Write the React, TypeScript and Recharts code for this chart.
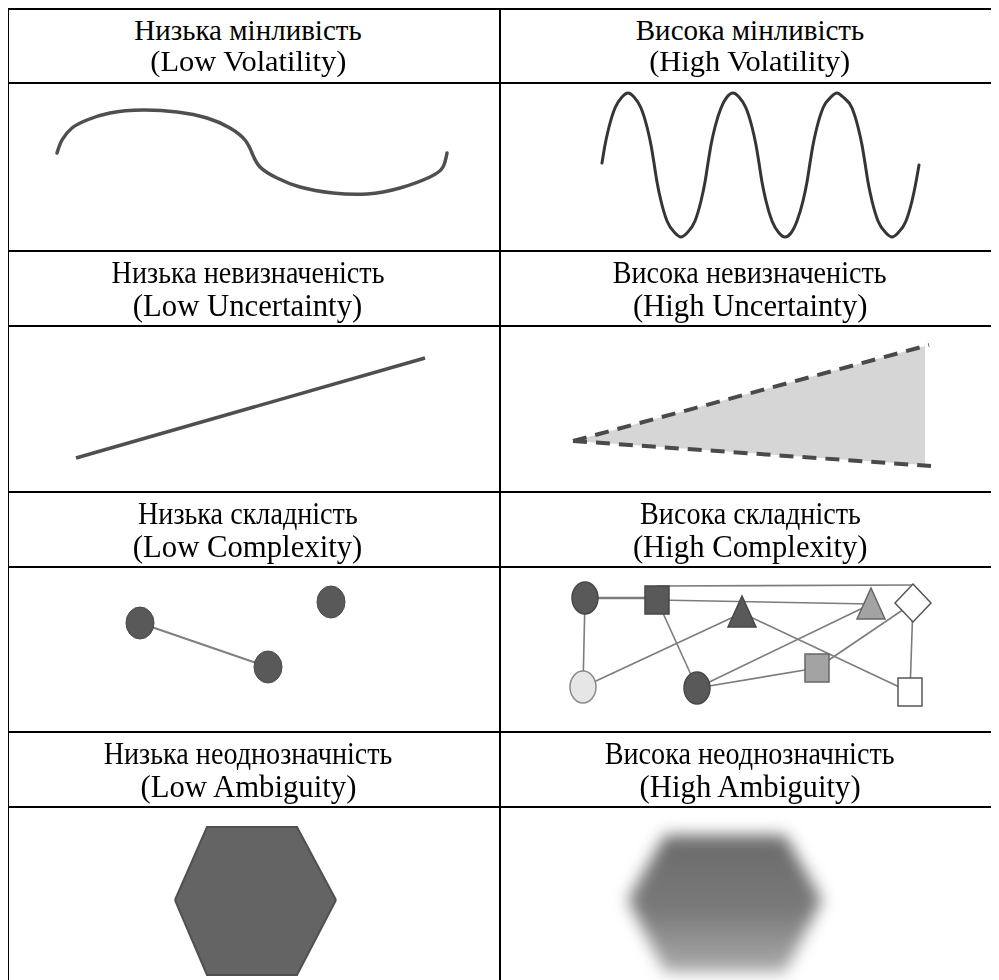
import React from "react";
import { ComposedChart, Line, Area, Scatter, XAxis, YAxis } from "recharts";

// header captions, left column = low, right column = high
const lowTitles = ["Низька мінливість", "Низька невизначеність", "Низька складність", "Низька неоднозначність"];
const lowSubtitles = ["(Low Volatility)", "(Low Uncertainty)", "(Low Complexity)", "(Low Ambiguity)"];
const highTitles = ["Висока мінливість", "Висока невизначеність", "Висока складність", "Висока неоднозначність"];
const highSubtitles = ["(High Volatility)", "(High Uncertainty)", "(High Complexity)", "(High Ambiguity)"];

// volatility (x = time, y = level)
const lowVolatility = [
  { x: 48, y: 97 }, { x: 53, y: 110 }, { x: 63, y: 122 }, { x: 78, y: 130 },
  { x: 101, y: 137 }, { x: 134, y: 140 }, { x: 168, y: 138 }, { x: 198, y: 132 },
  { x: 221, y: 122 }, { x: 236, y: 110 }, { x: 243, y: 97 }, { x: 251, y: 83 },
  { x: 268, y: 72 }, { x: 291, y: 63 }, { x: 324, y: 57 }, { x: 358, y: 56 },
  { x: 391, y: 62 }, { x: 421, y: 73 }, { x: 434, y: 83 }, { x: 438, y: 97 },
];
const highVolatility = [
  { x: 101, y: 87 }, { x: 104, y: 105 }, { x: 108, y: 123 }, { x: 114, y: 142 }, { x: 121, y: 153 },
  { x: 127, y: 157 }, { x: 133, y: 153 }, { x: 140, y: 142 }, { x: 146, y: 123 }, { x: 150, y: 105 },
  { x: 153, y: 87 }, { x: 156, y: 68 }, { x: 160, y: 49 }, { x: 166, y: 29 }, { x: 174, y: 17 },
  { x: 180, y: 13 }, { x: 186, y: 17 }, { x: 194, y: 29 }, { x: 200, y: 49 }, { x: 204, y: 68 },
  { x: 207, y: 87 }, { x: 210, y: 105 }, { x: 214, y: 123 }, { x: 220, y: 142 }, { x: 226, y: 153 },
  { x: 232, y: 157 }, { x: 238, y: 153 }, { x: 245, y: 142 }, { x: 251, y: 123 }, { x: 255, y: 105 },
  { x: 258, y: 87 }, { x: 261, y: 68 }, { x: 265, y: 49 }, { x: 271, y: 29 }, { x: 278, y: 17 },
  { x: 284, y: 13 }, { x: 290, y: 17 }, { x: 296, y: 29 }, { x: 302, y: 49 }, { x: 306, y: 68 },
  { x: 309, y: 87 }, { x: 312, y: 105 }, { x: 316, y: 123 }, { x: 322, y: 142 }, { x: 330, y: 153 },
  { x: 336, y: 157 }, { x: 342, y: 153 }, { x: 351, y: 142 }, { x: 357, y: 123 }, { x: 361, y: 105 },
  { x: 364, y: 87 }, { x: 367, y: 68 }, { x: 371, y: 49 }, { x: 377, y: 29 }, { x: 385, y: 17 },
  { x: 391, y: 13 }, { x: 397, y: 17 }, { x: 405, y: 29 }, { x: 411, y: 49 }, { x: 415, y: 68 },
  { x: 418, y: 85 },
];

// uncertainty
const lowUncertainty = [{ x: 67, y: 33 }, { x: 416, y: 133 }];
const uncertaintyUpper = [{ x: 72, y: 50 }, { x: 428, y: 146 }];
const uncertaintyLower = [{ x: 72, y: 50 }, { x: 430, y: 25 }];
const uncertaintyBand = [{ x: 72, band: [50, 50] }, { x: 424, band: [26, 145] }];

// complexity
const lowComplexityNodes = [{ x: 131, y: 108 }, { x: 259, y: 64 }, { x: 322, y: 129 }];
const lowComplexityLink = [{ x: 131, y: 108 }, { x: 259, y: 64 }];

const complexityNodes = [
  { x: 84, y: 133, shape: "circle", tone: "dark" },
  { x: 156, y: 131, shape: "square", tone: "dark" },
  { x: 241, y: 119, shape: "triangle", tone: "dark" },
  { x: 370, y: 127, shape: "triangle", tone: "mid" },
  { x: 412, y: 128, shape: "diamond", tone: "white" },
  { x: 82, y: 44, shape: "circle", tone: "light" },
  { x: 196, y: 43, shape: "circle", tone: "dark" },
  { x: 316, y: 63, shape: "square", tone: "mid" },
  { x: 409, y: 39, shape: "square", tone: "white" },
];
const complexityLinks = [
  [{ x: 84, y: 133 }, { x: 156, y: 133 }],
  [{ x: 156, y: 145 }, { x: 412, y: 146 }],
  [{ x: 156, y: 131 }, { x: 370, y: 127 }],
  [{ x: 84, y: 133 }, { x: 82, y: 44 }],
  [{ x: 156, y: 131 }, { x: 196, y: 43 }],
  [{ x: 241, y: 118 }, { x: 82, y: 44 }],
  [{ x: 241, y: 118 }, { x: 409, y: 39 }],
  [{ x: 370, y: 127 }, { x: 196, y: 43 }],
  [{ x: 412, y: 128 }, { x: 316, y: 63 }],
  [{ x: 412, y: 128 }, { x: 409, y: 39 }],
  [{ x: 316, y: 63 }, { x: 196, y: 43 }],
];

// ambiguity (hexagon outline as a range)
const clearHexagon = [
  { x: 166, band: [80, 80] }, { x: 198, band: [5, 153] },
  { x: 288, band: [5, 153] }, { x: 327, band: [80, 80] },
];
const blurredHexagon = [
  { x: 127, band: [80, 80] }, { x: 164, band: [8, 145] },
  { x: 284, band: [8, 145] }, { x: 321, band: [80, 80] },
];

const tones: Record<string, { fill: string; stroke: string }> = {
  dark: { fill: "#595959", stroke: "#474747" },
  mid: { fill: "#a3a3a3", stroke: "#666" },
  light: { fill: "#e6e6e6", stroke: "#8a8a8a" },
  white: { fill: "#fff", stroke: "#555" },
};

const LEFT_W = 490;
const RIGHT_W = 498;
const SERIF = '"Liberation Serif", "Times New Roman", serif';

function NodeShape(props: any) {
  const { cx, cy, payload } = props;
  const t = tones[payload.tone] || tones.dark;
  const common = { fill: t.fill, stroke: t.stroke, strokeWidth: 1.5 };
  if (payload.shape === "square") return <rect x={cx - 12} y={cy - 14} width={24} height={28} {...common} />;
  if (payload.shape === "triangle")
    return <polygon points={`${cx},${cy - 16} ${cx + 14},${cy + 15} ${cx - 14},${cy + 15}`} {...common} />;
  if (payload.shape === "diamond")
    return <polygon points={`${cx},${cy - 19} ${cx + 18},${cy} ${cx},${cy + 19} ${cx - 18},${cy}`} {...common} />;
  return <ellipse cx={cx} cy={cy} rx={13} ry={16} {...common} />;
}

function Frame({ w, h, children }: { w: number; h: number; children: React.ReactNode }) {
  return (
    <ComposedChart width={w} height={h} margin={{ top: 0, right: 0, bottom: 0, left: 0 }}>
      <XAxis type="number" dataKey="x" domain={[0, w]} allowDataOverflow hide />
      <YAxis type="number" dataKey="y" domain={[0, h]} allowDataOverflow hide />
      {children}
    </ComposedChart>
  );
}

function Header({ title, subtitle, condensed, left }: { title: string; subtitle: string; condensed: boolean; left?: boolean }) {
  const base: React.CSSProperties = { whiteSpace: "nowrap" };
  return (
    <div
      style={{
        background: "#fff",
        display: "flex",
        flexDirection: "column",
        alignItems: "center",
        justifyContent: "center",
        paddingRight: left ? 12 : 0,
        fontFamily: SERIF,
        fontSize: condensed ? 32 : 29,
        lineHeight: condensed ? "33px" : "31px",
        color: "#000",
      }}
    >
      <div style={{ ...base, transform: condensed ? "scaleX(0.88)" : undefined }}>{title}</div>
      <div style={{ ...base, transform: condensed ? "scaleX(0.96)" : "scaleX(1.05)" }}>{subtitle}</div>
    </div>
  );
}

const cell: React.CSSProperties = { background: "#fff", overflow: "hidden" };

export default function App() {
  return (
    <>
      <style>{"html,body{overflow:hidden}"}</style>
      <div
        style={{
          width: 992,
          height: 972,
          marginLeft: -1,
          boxSizing: "border-box",
          paddingTop: 2,
          paddingLeft: 2,
          background: "#000",
          overflow: "hidden",
          display: "grid",
          gridTemplateColumns: `${LEFT_W}px ${RIGHT_W}px`,
          gridTemplateRows: "72px 166px 73px 164px 73px 163px 73px 172px",
          columnGap: 2,
          rowGap: 2,
        }}
      >
        <Header title={lowTitles[0]} subtitle={lowSubtitles[0]} condensed={false} left />
        <Header title={highTitles[0]} subtitle={highSubtitles[0]} condensed={false} />

        <div style={cell}>
          <Frame w={LEFT_W} h={166}>
            <Line data={lowVolatility} dataKey="y" type="natural" stroke="#4f4f4f" strokeWidth={3.5}
              dot={false} activeDot={false} strokeLinecap="round" isAnimationActive={false} />
          </Frame>
        </div>
        <div style={cell}>
          <Frame w={RIGHT_W} h={166}>
            <Line data={highVolatility} dataKey="y" type="monotone" stroke="#353535" strokeWidth={3}
              dot={false} activeDot={false} strokeLinecap="round" isAnimationActive={false} />
          </Frame>
        </div>

        <Header title={lowTitles[1]} subtitle={lowSubtitles[1]} condensed left />
        <Header title={highTitles[1]} subtitle={highSubtitles[1]} condensed />

        <div style={cell}>
          <Frame w={LEFT_W} h={164}>
            <Line data={lowUncertainty} dataKey="y" type="linear" stroke="#4f4f4f" strokeWidth={3.5}
              dot={false} activeDot={false} isAnimationActive={false} />
          </Frame>
        </div>
        <div style={cell}>
          <Frame w={RIGHT_W} h={164}>
            <Area data={uncertaintyBand} dataKey="band" type="linear" fill="#d6d6d6" fillOpacity={1}
              stroke="none" isAnimationActive={false} />
            <Line data={uncertaintyUpper} dataKey="y" type="linear" stroke="#4a4a4a" strokeWidth={4}
              strokeDasharray="14 9" dot={false} activeDot={false} isAnimationActive={false} />
            <Line data={uncertaintyLower} dataKey="y" type="linear" stroke="#4a4a4a" strokeWidth={4}
              strokeDasharray="14 9" dot={false} activeDot={false} isAnimationActive={false} />
          </Frame>
        </div>

        <Header title={lowTitles[2]} subtitle={lowSubtitles[2]} condensed left />
        <Header title={highTitles[2]} subtitle={highSubtitles[2]} condensed />

        <div style={cell}>
          <Frame w={LEFT_W} h={163}>
            <Line data={lowComplexityLink} dataKey="y" type="linear" stroke="#808080" strokeWidth={2.2}
              dot={false} activeDot={false} isAnimationActive={false} />
            <Scatter data={lowComplexityNodes} fill="#595959" isAnimationActive={false}
              shape={(p: any) => <ellipse cx={p.cx} cy={p.cy} rx={14} ry={16} fill="#595959" stroke="#4a4a4a" />} />
          </Frame>
        </div>
        <div style={cell}>
          <Frame w={RIGHT_W} h={163}>
            {complexityLinks.map((link, i) => (
              <Line key={i} data={link} dataKey="y" type="linear" stroke="#7c7c7c"
                strokeWidth={i === 0 ? 2.6 : 1.6} dot={false} activeDot={false} isAnimationActive={false} />
            ))}
            <Scatter data={complexityNodes} isAnimationActive={false} shape={NodeShape} />
          </Frame>
        </div>

        <Header title={lowTitles[3]} subtitle={lowSubtitles[3]} condensed left />
        <Header title={highTitles[3]} subtitle={highSubtitles[3]} condensed />

        <div style={cell}>
          <Frame w={LEFT_W} h={172}>
            <Area data={clearHexagon} dataKey="band" type="linear" fill="#646464" fillOpacity={1}
              stroke="#505050" strokeWidth={2} isAnimationActive={false} />
          </Frame>
        </div>
        <div style={cell}>
          <div style={{ filter: "blur(8px)" }}>
            <Frame w={RIGHT_W} h={172}>
              <defs>
                <linearGradient id="fog" x1="0" y1="0" x2="0" y2="1">
                  <stop offset="0%" stopColor="#6a6a6a" />
                  <stop offset="55%" stopColor="#7a7a7a" />
                  <stop offset="100%" stopColor="#ababab" />
                </linearGradient>
              </defs>
              <Area data={blurredHexagon} dataKey="band" type="linear" fill="url(#fog)" fillOpacity={1}
                stroke="none" isAnimationActive={false} />
            </Frame>
          </div>
        </div>
      </div>
    </>
  );
}
